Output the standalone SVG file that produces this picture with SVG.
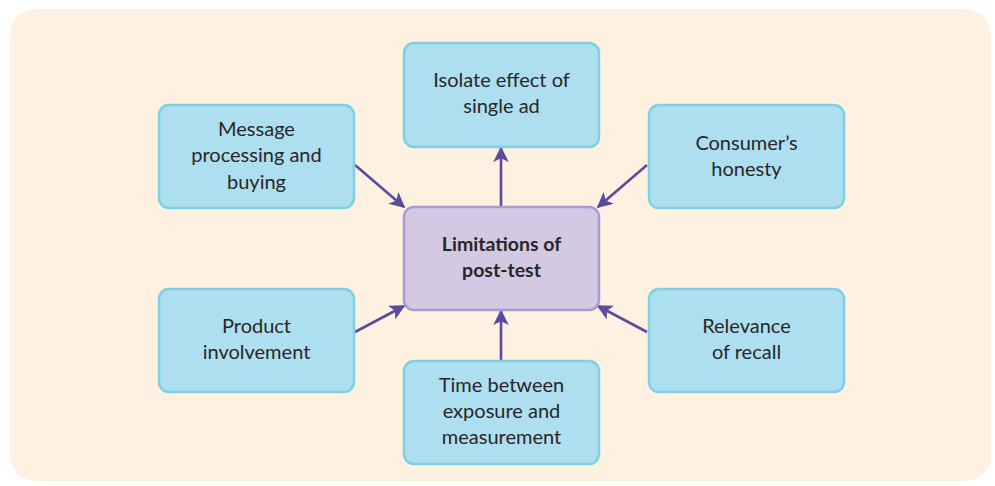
<svg xmlns="http://www.w3.org/2000/svg" width="995" height="486" viewBox="0 0 995 486">
<style>
.box{fill:#addff0;stroke:#80d0e2;stroke-width:2.5}
.ctr{fill:#d3c9e3;stroke:#a99bd2;stroke-width:2.5}
.t{font-family:Lato,"Open Sans",sans-serif;font-size:20px;fill:#2a2627;text-anchor:middle}
.b{font-weight:bold;font-size:19.5px}
.c{stroke:#5a4b9c;stroke-width:2.6;fill:none;marker-end:url(#ah)}
</style>
<defs>
<marker id="ah" viewBox="0 0 10 10" refX="9" refY="5" markerWidth="6" markerHeight="6" orient="auto" markerUnits="strokeWidth">
<path d="M0,0 L10,5 L0,10 L2.5,5 Z" fill="#5a4b9c"/>
</marker>
</defs>
<rect x="10" y="9" width="981" height="472" rx="26" fill="#fef1e2"/>
<g id="connectors">
<line class="c" x1="501" y1="206" x2="501" y2="148"/>
<line class="c" x1="355" y1="165" x2="404" y2="207"/>
<line class="c" x1="647" y1="165" x2="598" y2="207"/>
<line class="c" x1="355" y1="332" x2="404" y2="306"/>
<line class="c" x1="647" y1="332" x2="598" y2="306"/>
<line class="c" x1="501" y1="360" x2="501" y2="311"/>
</g>
<g id="isolate">
<rect class="box" x="404" y="43" width="195" height="104" rx="10"/>
<text class="t" x="501.5" y="87">Isolate effect of</text>
<text class="t" x="501.5" y="113">single ad</text>
</g>
<g id="message">
<rect class="box" x="159" y="105" width="195" height="103" rx="10"/>
<text class="t" x="256.5" y="136">Message</text>
<text class="t" x="256.5" y="162">processing and</text>
<text class="t" x="256.5" y="189">buying</text>
</g>
<g id="consumer">
<rect class="box" x="649" y="105" width="195" height="103" rx="10"/>
<text class="t" x="746.5" y="150">Consumer’s</text>
<text class="t" x="746.5" y="176">honesty</text>
</g>
<g id="center">
<rect class="ctr" x="404" y="207" width="195" height="103" rx="10"/>
<text class="t b" x="501.5" y="251">Limitations of</text>
<text class="t b" x="501.5" y="277">post-test</text>
</g>
<g id="product">
<rect class="box" x="159" y="289" width="195" height="103" rx="10"/>
<text class="t" x="256.5" y="333">Product</text>
<text class="t" x="256.5" y="359">involvement</text>
</g>
<g id="relevance">
<rect class="box" x="649" y="289" width="195" height="103" rx="10"/>
<text class="t" x="746.5" y="333">Relevance</text>
<text class="t" x="746.5" y="359">of recall</text>
</g>
<g id="time">
<rect class="box" x="404" y="361" width="195" height="103" rx="10"/>
<text class="t" x="501.5" y="392">Time between</text>
<text class="t" x="501.5" y="418">exposure and</text>
<text class="t" x="501.5" y="444">measurement</text>
</g>
</svg>
